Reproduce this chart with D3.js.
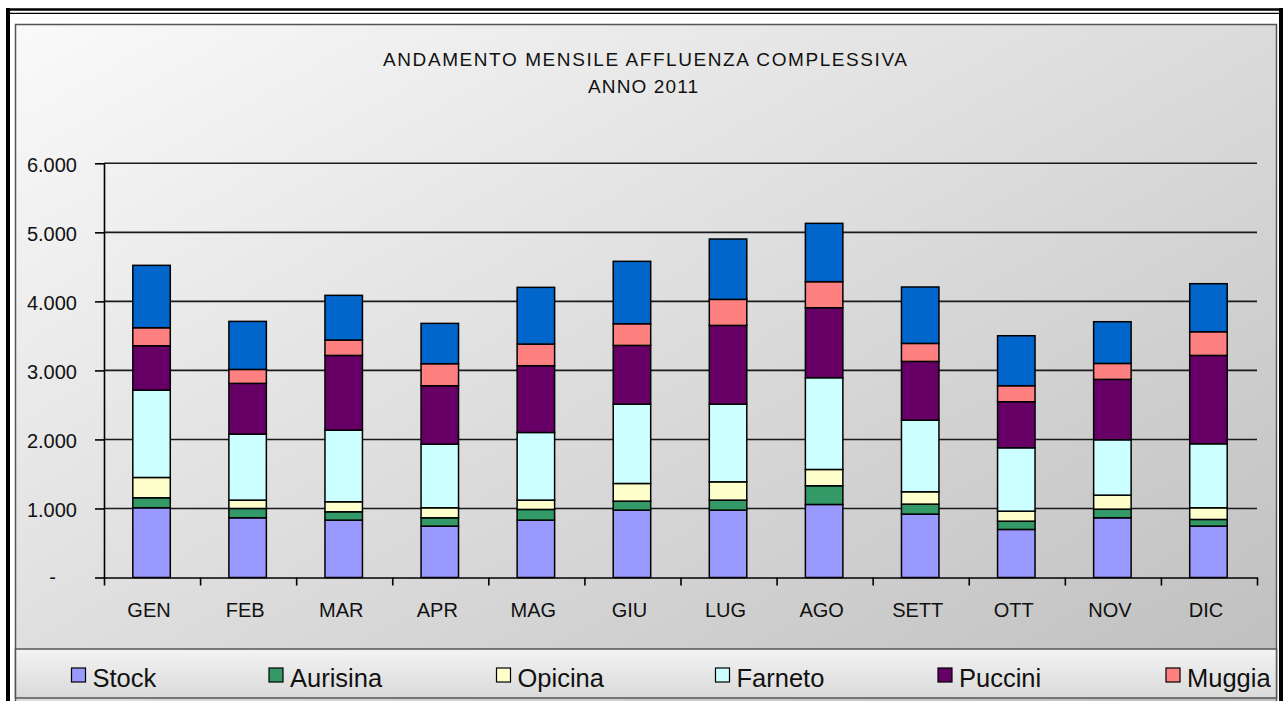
<!DOCTYPE html>
<html><head><meta charset="utf-8">
<script src="https://cdn.jsdelivr.net/npm/d3@7"></script>
<style>
html,body{margin:0;padding:0;background:#fff;overflow:hidden}
svg{display:block}
text{font-family:"Liberation Sans",Arial,sans-serif;fill:#111}
</style>
</head><body>
<svg id="c" width="1283" height="701"></svg>
<script>
// ---- data ----
const months = ["GEN","FEB","MAR","APR","MAG","GIU","LUG","AGO","SETT","OTT","NOV","DIC"];
const seriesNames = ["Stock","Aurisina","Opicina","Farneto","Puccini","Muggia","Altri"];
const stock    = [1010, 865, 831, 744, 831, 976, 976,1058, 918, 696, 865, 744];
const aurisina = [ 145, 135, 121, 121, 155, 130, 145, 271, 145, 120, 125,  97];
const opicina  = [ 294, 121, 145, 145, 135, 256, 265, 236, 179, 145, 203, 169];
const farneto  = [1266, 956,1038, 922, 980,1150,1126,1329,1038, 918, 802, 927];
const puccini  = [ 642, 735,1082, 846, 967, 850,1140,1014, 850, 667, 875,1280];
const muggia   = [ 261, 202, 223, 319, 314, 314, 377, 377, 261, 232, 231, 343];
const altri    = [ 904, 696, 647, 584, 821, 904, 874, 845, 817, 724, 604, 696];
const yTicks = [0,1000,2000,3000,4000,5000,6000];
const titleLines = ["ANDAMENTO MENSILE AFFLUENZA COMPLESSIVA","ANNO 2011"];
const colors = ["#9999FF","#339966","#FFFFCC","#CCFFFF","#660066","#FF8080","#0066CC"];

// ---- build ----
const seriesValues = [stock,aurisina,opicina,farneto,puccini,muggia,altri];
const rows = months.map((m,i)=>{const r={month:m}; seriesNames.forEach((s,j)=>r[s]=seriesValues[j][i]); return r;});
const stacked = d3.stack().keys(seriesNames)(rows);

const svg = d3.select("#c");
const defs = svg.append("defs");
const bg = defs.append("linearGradient").attr("id","bg").attr("x1",0).attr("y1",0).attr("x2",1).attr("y2",1);
bg.append("stop").attr("offset",0).attr("stop-color","#fafafa");
bg.append("stop").attr("offset",1).attr("stop-color","#bcbcbc");
const lg = defs.append("linearGradient").attr("id","lg").attr("x1",0).attr("y1",0).attr("x2",0).attr("y2",1);
lg.append("stop").attr("offset",0).attr("stop-color","#f3f3f3");
lg.append("stop").attr("offset",1).attr("stop-color","#dadada");

svg.append("rect").attr("width",1283).attr("height",701).attr("fill","#fff");

// chart area
svg.append("rect").attr("x",15.5).attr("y",24.5).attr("width",1261).attr("height",720)
  .attr("fill","url(#bg)").attr("stroke","#555").attr("stroke-width",1.5);

// title
const tLens = [524,110];
const tY = [65.5,92.5];
const tX = [645,643];
titleLines.forEach((t,i)=>{
  svg.append("text").attr("x",tX[i]).attr("y",tY[i]).attr("text-anchor","middle")
    .attr("font-size","19px").attr("textLength",tLens[i]).attr("lengthAdjust","spacing").text(t);
});

// scales
const y = d3.scaleLinear().domain([0,6000]).range([577.5,163.3]);
const x = d3.scaleBand().domain(months).range([104,1257]).padding(0);
const xi = d3.scaleLinear().domain([0,months.length]).range([104,1257]);
const barW = x.bandwidth()*0.39;
const loc = d3.formatLocale({decimal:",",thousands:".",grouping:[3],currency:["€",""]});
const fmt = loc.format(",d");

// gridlines
svg.append("g").selectAll("line").data(yTicks.filter(v=>v>0)).join("line")
  .attr("x1",104).attr("x2",1257).attr("y1",d=>y(d)).attr("y2",d=>y(d))
  .attr("stroke","#1a1a1a").attr("stroke-width",1.6);

// bars
const gb = svg.append("g");
stacked.forEach((s,j)=>{
  gb.append("g").selectAll("rect").data(s).join("rect")
    .attr("x",d=>x(d.data.month)+(x.bandwidth()-barW)/2-0.5)
    .attr("y",d=>y(d[1]))
    .attr("width",barW)
    .attr("height",d=>y(d[0])-y(d[1]))
    .attr("fill",colors[j]).attr("stroke","#000").attr("stroke-width",1.5);
});

// y axis
const ya = svg.append("g").attr("transform","translate(104,0)")
  .call(d3.axisLeft(y).tickValues(yTicks).tickSize(9).tickSizeOuter(0).tickPadding(18)
    .tickFormat(v=>v===0?"-":fmt(v)));
ya.select(".domain").attr("stroke","#000").attr("stroke-width",1.6);
ya.selectAll(".tick line").attr("stroke","#000").attr("stroke-width",1.6);
ya.selectAll(".tick text").attr("font-size","20px").attr("font-family","Liberation Sans, Arial, sans-serif")
  .attr("fill","#111").attr("dy","0.42em");
ya.selectAll(".tick text").filter(d=>d===0).attr("x",-48).attr("dy","0.3em");

// x axis ticks at band boundaries
const xa = svg.append("g").attr("transform","translate(0,577.5)")
  .call(d3.axisBottom(xi).tickValues(d3.range(months.length+1)).tickSize(8).tickSizeOuter(0).tickFormat(""));
xa.select(".domain").attr("stroke","#000").attr("stroke-width",1.6);
xa.selectAll(".tick line").attr("stroke","#000").attr("stroke-width",1.6);

// x labels
const xl = svg.append("g").attr("transform","translate(-3,577.5)")
  .call(d3.axisBottom(x).tickSize(0).tickPadding(25));
xl.select(".domain").remove();
xl.selectAll(".tick text").attr("font-size","20px").attr("font-family","Liberation Sans, Arial, sans-serif").attr("fill","#111");

// legend box (the last entry falls outside the visible frame, as in the original)
svg.append("rect").attr("x",15.5).attr("y",649).attr("width",1261).attr("height",49)
  .attr("fill","url(#lg)").attr("stroke","#555").attr("stroke-width",1.5);
const legendX = [71.5,269,496.5,715.5,938,1166];
const lgG = svg.append("g");
legendX.forEach((lx,j)=>{
  lgG.append("rect").attr("x",lx).attr("y",668).attr("width",14).attr("height",14)
    .attr("fill",colors[j]).attr("stroke","#000").attr("stroke-width",1.2);
  lgG.append("text").attr("x",lx+21).attr("y",686.5).attr("font-size","25.5px").text(seriesNames[j]);
});

// outer frame
svg.append("line").attr("x1",6).attr("x2",1283).attr("y1",9.5).attr("y2",9.5).attr("stroke","#000").attr("stroke-width",2.6);
svg.append("line").attr("x1",8).attr("x2",1281).attr("y1",13.3).attr("y2",13.3).attr("stroke","#000").attr("stroke-width",1.3);
svg.append("line").attr("x1",8).attr("x2",8).attr("y1",8).attr("y2",701).attr("stroke","#000").attr("stroke-width",4);
svg.append("line").attr("x1",1281).attr("x2",1281).attr("y1",8).attr("y2",701).attr("stroke","#000").attr("stroke-width",4);
</script>
</body></html>
